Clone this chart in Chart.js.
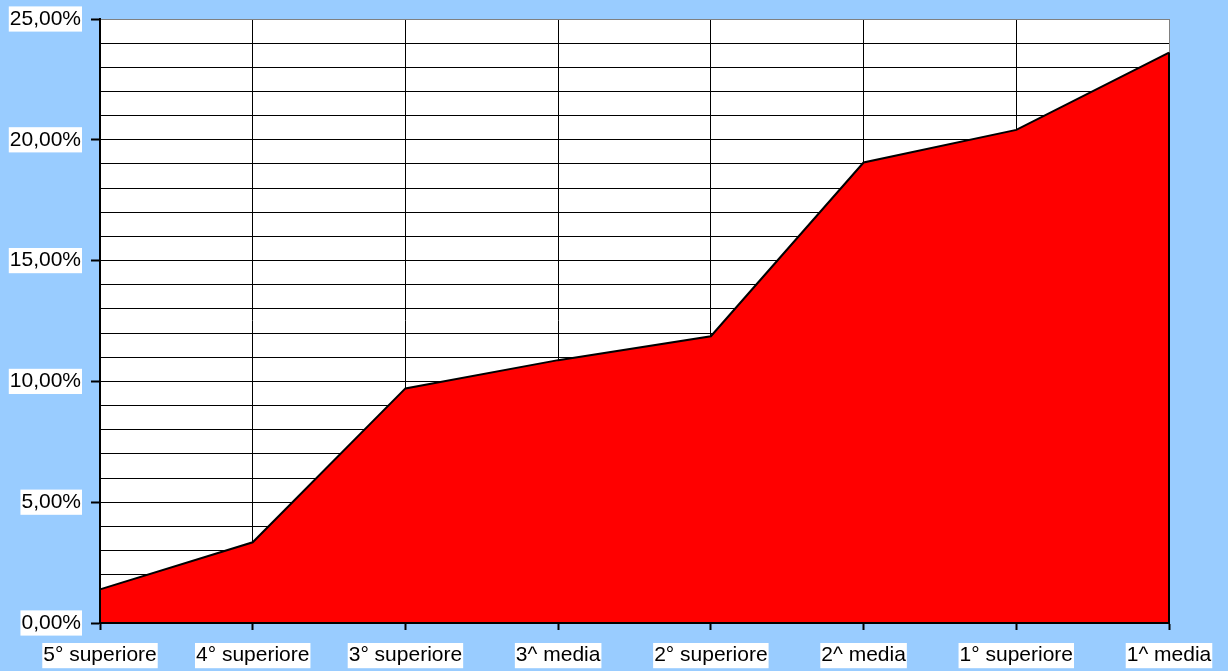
<!DOCTYPE html>
<html>
<head>
<meta charset="utf-8">
<script src="https://cdn.jsdelivr.net/npm/chart.js@4"></script>
<style>
  html, body { margin: 0; padding: 0; background: #99ccff; }
  #wrap { width: 1228px; height: 671px; }
</style>
</head>
<body>
<div id="wrap"><canvas id="chart" width="1228" height="671"></canvas></div>
<script>
const categories = ['5° superiore', '4° superiore', '3° superiore', '3^ media', '2° superiore', '2^ media', '1° superiore', '1^ media'];
const values = [1.39, 3.34, 9.71, 10.88, 11.87, 19.06, 20.41, 23.61];
const yMin = 0, yMax = 25, yStep = 1, yLabelStep = 5;

const labelFont = { family: "'Liberation Sans', Arial, sans-serif", size: 21 };

// fondo bianco dell'area del grafico + bordo destro dell'area
const plotBg = {
    id: 'plotBg',
    beforeDraw(chart) {
        const { ctx, chartArea: a } = chart;
        ctx.save();
        ctx.fillStyle = '#ffffff';
        ctx.fillRect(a.left, a.top, a.right - a.left, a.bottom - a.top);
        ctx.restore();
    },
    afterDatasetsDraw(chart) {
        const { ctx, scales } = chart;
        const last = values.length - 1;
        const x = scales.x.getPixelForValue(last);
        ctx.save();
        ctx.strokeStyle = '#000';
        ctx.lineWidth = 2;
        ctx.beginPath();
        ctx.moveTo(x, scales.y.getPixelForValue(values[last]));
        ctx.lineTo(x, scales.y.getPixelForValue(yMin));
        ctx.stroke();
        ctx.restore();
    }
};

new Chart(document.getElementById('chart'), {
    type: 'line',
    data: {
        labels: categories,
        datasets: [{
            data: values,
            borderColor: '#000000',
            borderWidth: 2,
            backgroundColor: '#ff0000',
            fill: 'origin',
            pointRadius: 0,
            tension: 0
        }]
    },
    options: {
        responsive: false,
        animation: false,
        layout: { padding: { top: 19, right: 59, left: 0, bottom: 0 } },
        plugins: { legend: { display: false }, tooltip: { enabled: false } },
        scales: {
            x: {
                offset: false,
                afterFit: (s) => { s.height = 48; },
                grid: {
                    color: (c) => c.index === categories.length - 1 ? '#808080' : '#000000',
                    lineWidth: 1,
                    tickLength: 7,
                    tickColor: '#000000',
                    tickWidth: 2
                },
                border: { color: '#000000', width: 2, z: 1 },
                ticks: {
                    color: '#000000',
                    font: labelFont,
                    padding: 13,
                    maxRotation: 0,
                    autoSkip: false,
                    showLabelBackdrop: true,
                    backdropColor: '#ffffff',
                    backdropPadding: { left: 1, right: 1, top: 0, bottom: 0 }
                }
            },
            y: {
                min: yMin,
                max: yMax,
                afterFit: (s) => { s.width = 100; s.paddingTop = 0; s.paddingBottom = 0; },
                grid: {
                    color: (c) => c.tick && c.tick.value === yMax ? '#808080' : '#000000',
                    lineWidth: 1,
                    tickLength: 9,
                    tickWidth: 2,
                    tickColor: (c) => c.tick && c.tick.value % yLabelStep === 0 ? '#000000' : 'rgba(0,0,0,0)'
                },
                border: { color: '#000000', width: 2, z: 1 },
                ticks: {
                    stepSize: yStep,
                    autoSkip: false,
                    color: '#000000',
                    font: labelFont,
                    padding: 10,
                    showLabelBackdrop: (c) => c.tick && c.tick.value % yLabelStep === 0,
                    backdropColor: '#ffffff',
                    backdropPadding: { left: 1, right: 1, top: 0, bottom: 0 },
                    callback: (v) => v % yLabelStep === 0 ? v.toFixed(2).replace('.', ',') + '%' : ''
                }
            }
        }
    },
    plugins: [plotBg]
});
</script>
</body>
</html>
